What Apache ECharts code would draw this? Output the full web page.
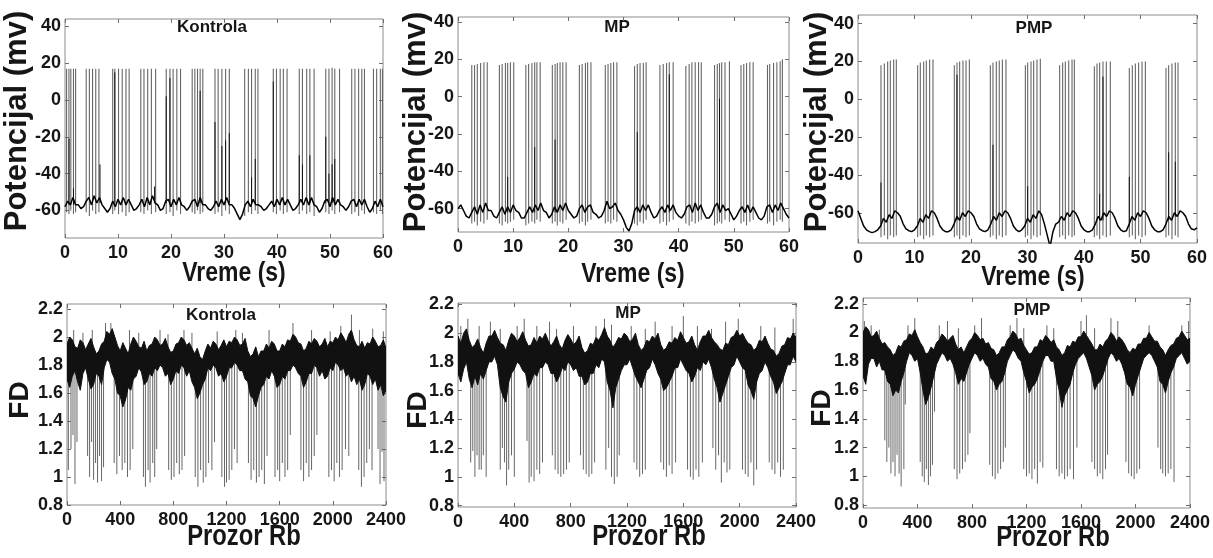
<!DOCTYPE html>
<html>
<head>
<meta charset="utf-8">
<script src="https://cdn.jsdelivr.net/npm/echarts@6/dist/echarts.min.js"></script>
<style>html,body{margin:0;padding:0;background:#fff}#c{width:1213px;height:558px}</style>
</head>
<body>
<div id="c"></div>
<script>
// ---------------- DATA ----------------
const vmTickValues = [-60, -40, -20, 0, 20, 40];
const fdTickValues = [0.8, 1, 1.2, 1.4, 1.6, 1.8, 2, 2.2];
const vmStep = 0.5;   // s between membrane-potential samples
const fdStep = 20;    // windows between FD envelope samples

// membrane potential (mV), sampled every 0.5 s from 0 to 60 s
const kontrolaVm = [
  -58,-55,-57,-53,-57,-57,-59,-58,-55,-53,
  -57,-52,-56,-53,-57,-59,-61,-59,-55,-58,
  -54,-57,-53,-57,-54,-57,-60,-59,-57,-54,
  -58,-53,-57,-52,-56,-57,-60,-59,-55,-54,
  -58,-54,-57,-53,-57,-58,-60,-58,-55,-54,
  -58,-53,-57,-57,-59,-60,-58,-55,-58,-54,
  -57,-53,-57,-57,-59,-62,-65,-62,-57,-55,
  -58,-54,-57,-57,-58,-60,-59,-57,-55,-58,
  -54,-57,-53,-57,-54,-57,-60,-59,-57,-54,
  -57,-53,-57,-53,-57,-58,-61,-59,-55,-54,
  -58,-53,-57,-54,-57,-58,-60,-58,-55,-54,
  -58,-54,-57,-54,-58,-61,-59,-55,-58,-54,
  -58
];
const mpVm = [
  -60,-58,-61,-64,-65,-62,-59,-63,-58,-62,
  -57,-61,-61,-64,-65,-62,-59,-63,-59,-62,
  -58,-61,-62,-65,-65,-62,-59,-62,-58,-61,
  -57,-61,-62,-65,-63,-59,-62,-58,-61,-57,
  -61,-63,-65,-64,-60,-58,-62,-59,-58,-62,
  -63,-65,-64,-61,-56,-60,-59,-57,-61,-63,
  -66,-70,-72,-68,-61,-59,-62,-58,-61,-58,
  -62,-65,-64,-61,-59,-62,-58,-61,-58,-62,
  -64,-65,-63,-59,-58,-62,-57,-61,-58,-62,
  -65,-65,-63,-59,-57,-62,-58,-61,-60,-63,
  -66,-64,-61,-59,-62,-58,-62,-59,-62,-65,
  -66,-64,-59,-58,-62,-58,-61,-57,-60,-63,
  -65
];
const pmpVm = [
  -59,-63,-67,-69,-70,-70.5,-70,-69,-67,-63,
  -65,-61,-63,-59,-60,-62,-66,-68.5,-69.5,-70,
  -69,-67,-63,-65,-61,-63,-59,-60,-63,-67,
  -69,-70,-70,-69,-66,-62,-64,-60,-62,-59,
  -60,-62,-66,-68.5,-69.5,-70,-69,-66,-62,-64,
  -60,-62,-59,-60,-63,-67,-69,-70,-69,-67,
  -63,-65,-61,-63,-59,-61,-66,-72,-78,-70,
  -66,-65,-62,-64,-60,-62,-59,-60,-63,-67,
  -69,-70,-70,-69,-66,-62,-64,-60,-62,-59,
  -60,-63,-67,-69,-70,-69.5,-66,-62,-64,-60,
  -62,-59,-60,-63,-67,-69,-70,-70,-69,-66,
  -62,-64,-60,-62,-59,-60,-62,-66,-68.5,-69,
  -68
];

// action potentials: [time s, trough mV, peak mV]
const kontrolaSpikes = [
  [0.3,-61,17],[0.75,-62,17],[1.1,-60,17],[1.6,-62,17],[2.0,-61,17],
  [4.0,-61,17],[4.6,-63,17],[5.2,-60,17],[5.8,-62,17],[6.4,-61,17],
  [9.0,-62,17],[9.4,-60,17],[10.1,-62,17],[10.8,-61,17],[11.5,-63,17],[12.1,-61,17],
  [14.3,-61,17],[14.9,-62,17],[15.6,-60,17],[16.3,-62,17],[17.1,-61,17],
  [19.1,-62,17],[19.8,-61,17],[20.4,-63,17],[21.1,-60,17],[21.8,-62,17],
  [24.0,-61,17],[24.5,-62,17],[25.0,-60,17],[25.5,-62,17],[26.0,-61,17],
  [28.3,-62,17],[28.9,-61,17],[29.6,-63,17],[30.3,-60,17],[31.0,-62,17],
  [33.9,-63,17],[34.6,-61,17],[35.2,-62,17],[35.9,-60,17],[36.4,-62,17],
  [39.3,-61,17],[39.9,-62,17],[40.6,-60,17],[41.2,-62,17],[41.9,-61,17],
  [44.2,-62,17],[44.8,-60,17],[45.6,-62,17],[46.2,-61,17],[47.0,-63,17],
  [49.2,-61,17],[49.8,-62,17],[50.4,-60,17.5],[50.9,-62,17],[51.8,-61,17],
  [54.1,-62,17],[54.7,-61,17],[55.4,-63,17],[56.0,-60,17],[56.5,-62,17],
  [58.2,-61,17],[58.8,-62,17],[59.5,-60,17],[59.9,-62,17]
];
const kontrolaSpikesDark = [
  [0.75,-57,-21],[1.6,-57,-48],[6.6,-56,-35],[9.4,-56,15],[16.9,-56,-47],[19.1,-56,2],
  [19.8,-56,12],[25.5,-56,5],[28.3,-56,-12],[29.6,-56,-25],[30.3,-56,-22],[31.0,-56,-18],
  [35.2,-56,-42],[35.9,-56,-32],[39.3,-56,10],[44.2,-56,-30],[44.8,-56,-35],[46.2,-56,-30],
  [49.2,-56,-20],[49.8,-56,-40],[50.4,-56,-35],[50.9,-56,-32]
];
const mpSpikes = [
  [2.5,-68,17],[3.0,-67,17],[3.5,-69,17.5],[4.1,-67,18],[4.7,-68,18.5],[5.3,-66,18.5],
  [7.5,-68,17],[8.0,-69,17.5],[8.6,-67,18],[9.0,-68,18],[9.5,-67,18.5],[10.1,-66,18.5],
  [12.3,-69,17],[12.8,-68,17.5],[13.4,-67,18],[13.9,-68,18.5],[14.3,-66,18.5],[14.9,-67,18.5],
  [17.1,-68,17],[17.6,-67,17.5],[18.0,-69,18],[18.5,-67,18.5],[19.0,-68,18.5],[19.6,-66,18.5],
  [22.0,-68,17],[22.5,-67,17.5],[23.1,-69,18],[23.5,-67,18.5],[24.1,-66,18.5],
  [26.7,-68,17],[27.2,-67,17.5],[27.7,-68,18],[28.2,-66,18.5],[28.8,-67,18.5],
  [32.0,-68,16.5],[32.5,-69,17.5],[33.0,-67,18],[33.6,-68,18],[34.1,-66,18.5],
  [36.6,-68,17],[37.2,-67,17.5],[37.8,-69,18],[38.3,-67,18.5],[39.0,-66,18.5],
  [41.3,-68,16.5],[41.9,-69,17.5],[42.4,-67,18.5],[43.0,-68,18.5],[43.6,-67,18.5],[44.1,-66,18.5],
  [46.5,-69,17],[47.0,-68,17.5],[47.4,-67,18],[47.8,-68,18.5],[48.4,-66,18.5],[49.2,-67,19],
  [51.3,-68,17],[51.8,-67,17.5],[52.3,-69,18],[52.9,-67,18.5],[53.5,-66,18.5],
  [56.1,-68,17],[56.5,-67,17.5],[57.2,-69,18],[57.8,-67,18.5],[58.4,-66,19],[58.8,-67,20]
];
const mpSpikesDark = [
  [9.0,-62,-43],[13.9,-62,-27],[17.6,-62,-23],[32.5,-62,-19],[38.3,-62,12],[47.4,-62,-1]
];
const pmpSpikes = [
  [4.07,-73,18],[4.66,-72,19],[5.25,-74,20],[5.72,-72,20.5],[6.31,-73,21],[6.78,-72,21],
  [10.56,-73,18],[11.03,-72,19.5],[11.62,-74,20],[12.09,-72,20.5],[12.68,-73,21],[13.27,-72,21],
  [17.05,-73,18],[17.52,-72,19.5],[17.99,-74,20],[18.58,-72,20.5],[19.12,-73,20.5],[19.71,-72,21],
  [23.42,-73,18],[23.89,-72,19.5],[24.48,-74,20],[25.0,-72,20.5],[25.55,-73,21],[26.19,-72,21],
  [29.62,-73,18],[30.03,-72,19.5],[30.62,-74,20],[31.09,-72,20.5],[31.68,-73,21],[32.27,-72,21.5],
  [35.69,-73,18],[36.22,-72,19.5],[36.7,-74,20],[37.29,-72,20.5],[37.88,-73,21],[38.29,-72,21],
  [41.83,-73,17.5],[42.3,-72,19],[42.77,-74,19.5],[43.36,-72,20],[43.95,-73,20],[44.66,-72,20],
  [48.02,-73,16.5],[48.55,-72,18],[49.09,-74,19],[49.67,-72,19.5],[50.27,-73,20],[50.86,-72,20],
  [54.51,-73,16.5],[54.98,-72,18],[55.57,-74,19],[56.16,-72,19.5],[56.64,-73,19.5]
];
const pmpSpikesDark = [
  [4.07,-66,-44],[17.52,-64,13],[23.89,-64,-24],[30.03,-64,-46],[42.77,-64,-50],
  [43.36,-64,12],[48.02,-66,-41],[54.98,-64,-28],[56.16,-62,-33]
];

// FD: dense band envelope (low / high), every 20 windows from 0 to 2400
const kontrolaFdLow = [
  1.70,1.64,1.72,1.76,1.68,1.62,1.74,1.78,1.70,1.63,1.66,1.74,1.72,1.66,1.78,1.84,1.82,1.74,1.70,1.60,
  1.58,1.50,1.55,1.64,1.62,1.70,1.72,1.78,1.75,1.66,1.68,1.74,1.72,1.78,1.76,1.80,1.78,1.72,1.74,1.66,
  1.70,1.76,1.74,1.80,1.78,1.72,1.76,1.68,1.64,1.56,1.60,1.66,1.70,1.78,1.76,1.80,1.78,1.72,1.74,1.68,
  1.72,1.78,1.78,1.82,1.80,1.76,1.76,1.70,1.68,1.58,1.56,1.50,1.58,1.64,1.66,1.72,1.70,1.76,1.72,1.64,
  1.66,1.72,1.70,1.76,1.76,1.80,1.78,1.74,1.72,1.64,1.68,1.74,1.74,1.80,1.78,1.72,1.76,1.70,1.72,1.78,
  1.76,1.82,1.80,1.76,1.78,1.72,1.74,1.68,1.72,1.66,1.70,1.62,1.66,1.74,1.72,1.66,1.70,1.62,1.66,1.58,
  1.62
];
const kontrolaFdHigh = [
  1.95,2.00,1.98,1.93,1.92,1.98,1.96,1.91,1.95,1.99,1.93,1.88,1.90,1.95,1.97,2.04,2.02,2.06,2.00,1.94,
  1.90,1.96,1.92,1.88,1.95,2.00,1.97,1.93,1.92,1.97,1.90,1.94,1.95,2.00,1.98,1.94,1.95,1.99,1.93,1.89,
  1.90,1.95,1.96,2.00,1.98,1.94,1.96,1.92,1.88,1.92,1.86,1.84,1.90,1.95,1.92,1.97,1.95,1.91,1.94,1.98,
  1.93,1.97,1.96,2.00,1.98,1.94,1.95,1.99,1.90,1.86,1.88,1.93,1.86,1.90,1.90,1.95,1.92,1.97,1.95,1.90,
  1.90,1.95,1.93,1.98,1.97,2.02,2.00,1.96,1.95,1.90,1.92,1.97,1.95,1.99,1.97,1.93,1.95,1.99,1.93,1.97,
  1.96,2.00,1.98,2.03,2.00,1.96,2.02,2.05,1.98,1.94,1.93,1.97,1.92,1.96,1.95,2.00,1.97,1.93,1.94,1.98,
  1.92
];
const mpFdLow = [
  1.72,1.66,1.75,1.80,1.68,1.62,1.70,1.64,1.72,1.68,1.74,1.80,1.80,1.84,1.78,1.62,1.56,1.52,1.66,1.72,
  1.75,1.80,1.78,1.74,1.72,1.62,1.66,1.72,1.70,1.76,1.76,1.80,1.78,1.72,1.72,1.66,1.70,1.76,1.74,1.80,
  1.78,1.74,1.76,1.70,1.70,1.64,1.66,1.72,1.72,1.78,1.76,1.82,1.80,1.66,1.60,1.48,1.62,1.68,1.74,1.78,
  1.78,1.82,1.76,1.70,1.66,1.62,1.68,1.74,1.76,1.82,1.78,1.72,1.68,1.60,1.62,1.66,1.70,1.76,1.76,1.82,
  1.78,1.74,1.72,1.66,1.70,1.76,1.74,1.80,1.78,1.82,1.76,1.68,1.62,1.52,1.58,1.64,1.70,1.76,1.78,1.84,
  1.80,1.76,1.74,1.64,1.60,1.54,1.66,1.72,1.74,1.80,1.76,1.70,1.66,1.58,1.62,1.66,1.72,1.78,1.78,1.84,
  1.80
];
const mpFdHigh = [
  1.98,1.93,2.00,2.03,1.95,1.90,1.92,1.96,1.90,1.86,1.93,1.98,1.98,2.02,1.97,1.93,1.92,1.88,1.95,2.00,
  1.98,1.94,1.97,2.01,1.95,1.91,1.92,1.97,1.93,1.98,1.96,2.00,1.95,1.91,1.94,1.98,1.92,1.89,1.95,1.99,
  1.96,1.92,1.94,1.98,1.90,1.86,1.88,1.93,1.92,1.97,1.95,1.99,2.04,1.98,1.95,1.90,1.93,1.97,1.96,2.00,
  1.98,1.94,1.96,2.00,1.92,1.88,1.90,1.95,1.94,1.98,1.96,2.00,1.92,1.88,1.90,1.94,1.93,1.97,1.95,2.01,
  1.97,1.93,1.94,1.98,1.92,1.88,1.94,1.98,1.98,2.02,1.97,1.94,1.92,1.89,1.88,1.93,1.92,1.97,1.98,2.02,
  1.98,2.00,1.96,1.93,1.92,1.88,1.90,1.95,1.94,1.98,1.93,1.89,1.88,1.84,1.86,1.91,1.92,1.97,1.96,2.00,
  1.97
];
const pmpFdLow = [
  1.70,1.64,1.78,1.82,1.82,1.76,1.80,1.74,1.74,1.66,1.64,1.56,1.60,1.58,1.66,1.72,1.80,1.86,1.84,1.80,
  1.82,1.72,1.60,1.50,1.55,1.62,1.70,1.78,1.82,1.86,1.84,1.80,1.82,1.78,1.72,1.64,1.68,1.66,1.72,1.78,
  1.82,1.86,1.84,1.80,1.82,1.78,1.76,1.68,1.66,1.60,1.64,1.66,1.72,1.80,1.84,1.88,1.86,1.82,1.80,1.72,
  1.66,1.58,1.62,1.64,1.68,1.74,1.80,1.84,1.84,1.80,1.80,1.68,1.60,1.48,1.56,1.60,1.64,1.72,1.78,1.82,
  1.84,1.86,1.82,1.76,1.70,1.60,1.64,1.66,1.70,1.76,1.82,1.86,1.84,1.80,1.82,1.78,1.72,1.64,1.62,1.56,
  1.64,1.70,1.76,1.82,1.84,1.86,1.84,1.80,1.76,1.66,1.64,1.58,1.66,1.72,1.76,1.82,1.84,1.86,1.82,1.78,
  1.80
];
const pmpFdHigh = [
  2.00,2.04,2.02,1.97,1.98,2.01,1.96,1.92,1.93,1.90,1.88,1.84,1.86,1.91,1.90,1.94,1.95,1.99,1.98,2.02,
  1.97,1.93,1.90,1.85,1.86,1.90,1.88,1.93,1.95,1.99,1.97,1.94,1.96,1.98,1.92,1.88,1.90,1.86,1.90,1.94,
  1.96,2.00,1.98,1.95,1.96,1.92,1.93,1.89,1.88,1.84,1.86,1.90,1.90,1.95,1.97,2.01,1.99,1.95,1.96,1.91,
  1.88,1.85,1.86,1.90,1.90,1.95,1.94,1.98,1.96,1.93,1.95,1.90,1.88,1.84,1.86,1.91,1.90,1.94,1.93,1.97,
  1.97,2.01,1.98,1.95,1.92,1.88,1.88,1.92,1.90,1.94,1.96,2.00,1.98,1.94,1.97,1.95,1.92,1.88,1.86,1.89,
  1.88,1.92,1.92,1.96,1.96,2.00,1.97,1.94,1.94,1.90,1.88,1.84,1.88,1.91,1.92,1.96,1.97,2.01,1.98,1.95,
  1.96
];

// FD excursions: [window, FD reached]
const kontrolaFdDown = [
  [10,1.05],[30,1.2],[45,1.3],[60,0.95],[75,1.25],
  [155,1.15],[170,1.0],[185,1.25],[200,0.98],[215,1.1],[230,0.96],[245,1.15],[260,0.97],[275,1.07],
  [355,1.1],[375,1.02],[395,1.15],[415,1.05],[435,1.1],[455,1.0],[475,1.05],[495,1.2],
  [575,1.0],[590,0.93],[610,1.05],[625,0.96],[645,1.1],[660,1.0],[675,1.2],
  [765,1.05],[785,0.98],[805,1.0],[825,1.1],[845,1.02],[865,1.05],[885,1.15],
  [965,1.0],[985,0.93],[1005,1.05],[1025,0.96],[1045,1.0],[1065,1.1],[1090,1.05],[1110,1.25],
  [1165,1.0],[1185,0.93],[1200,0.96],[1220,0.98],[1240,1.05],[1260,1.2],[1280,1.1],
  [1365,1.1],[1385,0.98],[1405,1.05],[1425,0.96],[1445,1.0],[1465,1.05],[1485,0.95],[1505,1.15],
  [1565,1.0],[1585,1.05],[1600,0.97],[1620,1.1],[1640,1.0],[1660,1.05],[1680,1.3],
  [1760,1.05],[1780,0.97],[1800,1.1],[1820,1.0],[1840,1.05],[1860,1.15],[1880,1.3],
  [1970,1.0],[1990,1.05],[2010,0.97],[2030,1.1],[2050,1.0],[2070,1.05],[2095,1.2],[2120,1.15],
  [2195,1.05],[2215,0.93],[2235,1.0],[2255,1.1],[2275,1.2],[2295,1.05],
  [2340,1.2],[2355,0.95],[2370,1.18],[2385,0.97]
];
const kontrolaFdUp = [
  [50,2.05],[120,2.03],[190,2.05],[290,2.1],[330,2.1],[470,2.05],[540,2.03],[700,2.05],
  [760,2.02],[880,2.05],[940,2.03],[1130,2.04],[1270,2.05],[1320,2.03],[1520,2.05],[1700,2.1],
  [1840,2.05],[1980,2.04],[2060,2.08],[2140,2.16],[2200,2.05],[2300,2.06],[2380,2.04]
];
const mpFdDown = [
  [90,1.1],[105,1.18],[120,1.0],[135,1.15],[150,1.05],[165,1.05],[180,1.15],[200,1.0],
  [300,1.05],[315,1.2],[330,1.1],[345,0.94],[360,1.05],[380,1.15],[400,1.0],
  [490,1.25],[505,0.96],[520,1.0],[540,0.97],[560,1.05],[580,1.02],[600,1.1],
  [670,1.15],[690,1.05],[710,1.02],[730,1.0],[750,1.02],[770,1.05],[790,1.1],
  [870,1.15],[890,1.05],[910,1.02],[930,1.0],[950,1.02],[970,1.1],
  [1050,1.05],[1070,1.2],[1090,1.0],[1110,0.95],[1130,1.0],[1145,1.15],
  [1250,1.1],[1270,1.05],[1290,1.0],[1310,1.02],[1330,1.05],
  [1440,1.1],[1460,1.05],[1480,1.0],[1500,1.08],[1520,1.02],[1545,1.1],
  [1630,1.05],[1650,1.0],[1670,0.98],[1690,1.05],[1710,1.0],[1735,1.1],
  [1810,1.2],[1830,1.05],[1850,1.15],[1870,0.96],[1890,1.1],[1910,1.03],[1930,1.05],
  [2020,1.05],[2040,1.02],[2060,1.0],[2080,1.1],[2100,0.94],[2120,1.05],
  [2210,1.1],[2230,1.05],[2250,1.02],[2270,1.1],[2290,1.0],[2310,1.05]
];
const mpFdUp = [
  [20,2.05],[70,2.1],[150,2.05],[230,2.08],[300,2.03],[420,2.05],[470,2.1],[560,2.05],
  [650,2.08],[700,2.03],[820,2.05],[980,2.05],[1040,2.1],[1090,2.06],[1230,2.05],[1330,2.03],
  [1400,2.08],[1520,2.05],[1600,2.12],[1700,2.05],[1800,2.03],[1900,2.08],[1990,2.1],[2150,2.05],
  [2250,2.04],[2380,2.1]
];
const pmpFdDown = [
  [160,1.25],[175,1.1],[190,1.2],[205,1.02],[220,1.1],[235,1.0],[250,1.15],[265,1.02],[280,0.93],[300,1.05],[310,1.5],
  [420,1.1],[435,1.0],[450,0.96],[465,1.05],[480,0.94],[495,1.0],[510,1.08],[525,1.45],
  [670,1.05],[690,0.98],[710,1.02],[730,1.05],[750,1.1],[770,1.15],[785,1.3],
  [930,1.08],[950,1.0],[970,0.98],[990,1.02],[1010,1.05],[1030,1.1],[1045,1.2],
  [1180,1.05],[1200,1.0],[1220,1.02],[1240,0.98],[1260,1.05],[1280,0.95],[1300,1.1],[1320,1.06],
  [1420,1.05],[1440,1.0],[1460,1.02],[1480,0.98],[1500,1.0],[1520,1.05],[1545,0.98],[1570,1.2],
  [1680,1.1],[1700,1.05],[1720,1.0],[1740,1.02],[1760,0.98],[1780,1.05],[1795,1.15],
  [1930,1.1],[1950,1.02],[1970,1.0],[1990,0.98],[2010,1.02],[2030,1.05],
  [2165,1.2],[2185,1.05],[2200,1.02],[2220,1.0],[2240,1.02],[2260,1.05],[2283,0.96]
];
const pmpFdUp = [
  [10,2.08],[60,2.05],[120,2.02],[330,2.05],[380,2.1],[560,2.05],[620,2.08],[700,2.03],
  [820,2.05],[870,2.1],[1080,2.05],[1130,2.1],[1180,2.03],[1350,2.05],[1400,2.03],[1600,2.08],
  [1640,2.12],[1700,2.03],[1820,2.1],[1870,2.08],[2100,2.05],[2340,2.05],[2390,2.08]
];

const panelTitles = ['Kontrola', 'MP', 'PMP', 'Kontrola', 'MP', 'PMP'];

// ---------------- LAYOUT / STYLE ----------------
const FONT = 'Liberation Sans, Arial, Helvetica, sans-serif';
const TXT = '#161616';
const layout = [
  {left: 65,  top: 19,  width: 318, height: 219, ymin: -75,  ymax: 44,   title: [212, 27]},
  {left: 458, top: 17,  width: 331, height: 215, ymin: -72.5, ymax: 42.7, title: [617, 27]},
  {left: 858, top: 15,  width: 339, height: 228, ymin: -76,  ymax: 44.6, title: [1034, 28]},
  {left: 67,  top: 304, width: 319, height: 201, ymin: 0.8,  ymax: 2.236, title: [221, 315]},
  {left: 458, top: 303, width: 338, height: 204, ymin: 0.79, ymax: 2.21, title: [628, 313]},
  {left: 863, top: 298, width: 337, height: 210, ymin: 0.78, ymax: 2.24, title: [1032, 310]}
];
const vmPanels = [
  {base: kontrolaVm, spikes: kontrolaSpikes, dark: kontrolaSpikesDark},
  {base: mpVm, spikes: mpSpikes, dark: mpSpikesDark},
  {base: pmpVm, spikes: pmpSpikes, dark: pmpSpikesDark}
];
const fdPanels = [
  {low: kontrolaFdLow, high: kontrolaFdHigh, down: kontrolaFdDown, up: kontrolaFdUp},
  {low: mpFdLow, high: mpFdHigh, down: mpFdDown, up: mpFdUp},
  {low: pmpFdLow, high: pmpFdHigh, down: pmpFdDown, up: pmpFdUp}
];

const grids = [], xAxes = [], yAxes = [], series = [];
const tickStyle = {inside: true, length: 4, lineStyle: {color: '#6e6e6e', width: 1}};
const labelStyle = {fontSize: 18, fontWeight: 'bold', color: TXT, fontFamily: FONT,
  formatter: function (v) { return String(v); }};

layout.forEach((L, i) => {
  const isVm = i < 3;
  grids.push({left: L.left, top: L.top, width: L.width, height: L.height, show: true,
    borderColor: '#8c8c8c', borderWidth: 1, backgroundColor: '#fff'});
  const xr = isVm ? {min: 0, max: 60, interval: 10} : {min: 0, max: 2400, interval: 400};
  xAxes.push(Object.assign({gridIndex: i, type: 'value', position: 'bottom',
    axisLine: {show: false, onZero: false}, axisTick: tickStyle, splitLine: {show: false},
    axisLabel: Object.assign({margin: 6}, labelStyle)}, xr));
  xAxes.push(Object.assign({gridIndex: i, type: 'value', position: 'top',
    axisLine: {show: false, onZero: false}, axisTick: tickStyle, splitLine: {show: false},
    axisLabel: {show: false}}, xr));
  const tv = isVm ? vmTickValues : fdTickValues;
  yAxes.push({gridIndex: i, type: 'value', position: 'left', min: L.ymin, max: L.ymax,
    axisLine: {show: false, onZero: false}, splitLine: {show: false},
    axisTick: Object.assign({customValues: tv}, tickStyle),
    axisLabel: Object.assign({customValues: tv, margin: 4}, labelStyle)});
  yAxes.push({gridIndex: i, type: 'value', position: 'right', min: L.ymin, max: L.ymax,
    axisLine: {show: false, onZero: false}, splitLine: {show: false},
    axisTick: Object.assign({customValues: tv}, tickStyle),
    axisLabel: {show: false}});
});

function segSeries(i, data, color, width, z) {
  return {
    type: 'custom', xAxisIndex: 2 * i, yAxisIndex: 2 * i, data: data, clip: true,
    silent: true, animation: false, z: z, encode: {x: 0, y: [1, 2]},
    renderItem: function (params, api) {
      const a = api.coord([api.value(0), api.value(1)]);
      const b = api.coord([api.value(0), api.value(2)]);
      return {type: 'line', shape: {x1: a[0], y1: a[1], x2: b[0], y2: b[1]},
        style: {stroke: color, lineWidth: width}};
    }
  };
}

vmPanels.forEach((P, i) => {
  series.push(segSeries(i, P.spikes, '#666', 1.1, 2));
  series.push(segSeries(i, P.dark, '#111', 1, 3));
  series.push({type: 'line', xAxisIndex: 2 * i, yAxisIndex: 2 * i,
    data: P.base.map((v, j) => [j * vmStep, v]), showSymbol: false, symbol: 'none',
    lineStyle: {color: '#000', width: 1.5}, silent: true, animation: false, z: 4});
});

fdPanels.forEach((P, k) => {
  const i = k + 3;
  const mid = (x) => { const j = Math.round(x / fdStep); return (P.low[j] + P.high[j]) / 2; };
  series.push(segSeries(i, P.down.map(d => [d[0], mid(d[0]), d[1]]), '#666', 1, 2));
  series.push(segSeries(i, P.up.map(d => [d[0], mid(d[0]), d[1]]), '#666', 1, 2));
  series.push({
    type: 'custom', xAxisIndex: 2 * i, yAxisIndex: 2 * i, data: [[0, P.low[0]]],
    encode: {x: 0, y: 1}, silent: true, animation: false, z: 3, clip: true,
    renderItem: function (params, api) {
      const pts = P.high.map((v, j) => api.coord([j * fdStep, v]));
      for (let j = P.low.length - 1; j >= 0; j--) pts.push(api.coord([j * fdStep, P.low[j]]));
      return {type: 'polygon', shape: {points: pts},
        style: {fill: '#111', stroke: '#111', lineWidth: 1}};
    }
  });
});

// texts
const graphic = [];
function txt(text, x, y, size, rot, sx) {
  graphic.push({type: 'text', x: x, y: y, rotation: rot || 0, scaleX: sx || 1, silent: true,
    style: {text: text, fill: TXT, font: 'bold ' + size + 'px ' + FONT,
      align: 'center', verticalAlign: 'middle', textAlign: 'center', textVerticalAlign: 'middle'}});
}
layout.forEach((L, i) => txt(panelTitles[i], L.title[0], L.title[1], 17));
[[17, 121], [416, 122], [817, 122]].forEach(p => txt('Potencijal (mv)', p[0], p[1], 31, Math.PI / 2));
[[234, 273], [633, 274], [1033, 277]].forEach(p => txt('Vreme (s)', p[0], p[1], 28, 0, 0.82));
[[20, 400], [418, 410], [822, 408]].forEach(p => txt('FD', p[0], p[1], 28, Math.PI / 2));
[[244, 537], [649, 537], [1053, 538]].forEach(p => txt('Prozor Rb', p[0], p[1], 29, 0, 0.82));

const chart = echarts.init(document.getElementById('c'), null, {renderer: 'canvas'});
chart.setOption({
  backgroundColor: '#fff', animation: false,
  grid: grids, xAxis: xAxes, yAxis: yAxes, series: series, graphic: graphic
});
</script>
</body>
</html>
